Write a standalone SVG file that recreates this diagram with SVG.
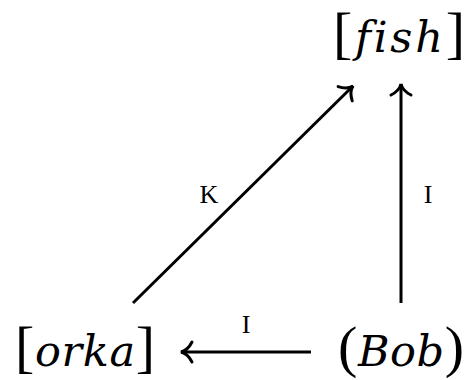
<svg xmlns="http://www.w3.org/2000/svg" width="475" height="380" viewBox="0 0 475 380">
<style>
text{font-family:"Liberation Serif",serif;fill:#000;font-variant-ligatures:none}
.it{font-family:"DejaVu Serif",serif;font-style:italic;font-size:43px;font-variant-ligatures:none}
.br{font-family:"Liberation Serif",serif;font-style:normal;font-size:58px}
.lbl{font-size:26px}
.edge{stroke:#000;stroke-width:3;fill:none}
</style>
<defs>
<marker id="arr" markerUnits="userSpaceOnUse" markerWidth="30" markerHeight="30" viewBox="-15 -15 30 30" refX="0" refY="0" orient="auto">
<path d="M -11 -10 C -8 -4 -4 -1 0 0 C -4 1 -8 4 -11 10" stroke="#000" stroke-width="3" fill="none" stroke-linecap="round"/>
</marker>
</defs>
<g id="fish">
<text x="333" y="52" textLength="132" lengthAdjust="spacing"><tspan class="br">[</tspan><tspan class="it">fish</tspan><tspan class="br">]</tspan></text>
</g>
<g id="orka">
<text x="15" y="366" textLength="140" lengthAdjust="spacing"><tspan class="br">[</tspan><tspan class="it">orka</tspan><tspan class="br">]</tspan></text>
</g>
<g id="bob">
<text x="338" y="366" textLength="126" lengthAdjust="spacing"><tspan class="br">(</tspan><tspan class="it">Bob</tspan><tspan class="br">)</tspan></text>
</g>
<g id="edges">
<line class="edge" x1="133" y1="303" x2="353" y2="86" marker-end="url(#arr)"/>
<line class="edge" x1="401" y1="303" x2="401" y2="84" marker-end="url(#arr)"/>
<line class="edge" x1="311" y1="352" x2="181" y2="352" marker-end="url(#arr)"/>
<text class="lbl" x="209" y="203" text-anchor="middle">K</text>
<text class="lbl" x="428" y="203" text-anchor="middle">I</text>
<text class="lbl" x="246" y="333" text-anchor="middle">I</text>
</g>
</svg>
